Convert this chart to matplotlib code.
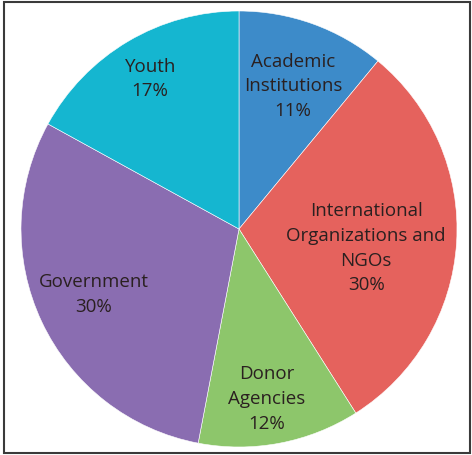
import matplotlib
matplotlib.use('Agg')
import matplotlib.pyplot as plt
import numpy as np
from matplotlib.patches import Rectangle

# pie slices, clockwise from 12 o'clock
labels = ['Academic\nInstitutions', 'International\nOrganizations and\nNGOs',
          'Donor\nAgencies', 'Government', 'Youth']
shares = [11, 30, 12, 30, 17]
colors = ['#3d8bc9', '#e5625d', '#8dc66b', '#8a6db1', '#15b6d0']
# label placement: fraction of radius and angle nudge (deg) from slice middle
label_r = [0.70, 0.59, 0.79, 0.73, 0.80]
label_nudge = [-1, -5, -1.5, -1, 0]

plt.rcParams['font.family'] = ['Open Sans', 'DejaVu Sans']

fig = plt.figure(figsize=(4.72, 4.55), dpi=100)
ax = fig.add_axes([21 / 472, 8 / 455, 436 / 472, 436 / 455])

wedges, _ = ax.pie(shares, colors=colors, startangle=90, counterclock=False,
                   radius=1.0, wedgeprops=dict(edgecolor='white', linewidth=0.4))

for w, lab, val, r, nd in zip(wedges, labels, shares, label_r, label_nudge):
    mid = np.deg2rad((w.theta1 + w.theta2) / 2 + nd)
    ax.text(r * np.cos(mid), r * np.sin(mid), f'{lab}\n{val}%',
            ha='center', va='center', fontsize=13.5, color='#2a2020',
            linespacing=1.47)

ax.set_xlim(-1, 1)
ax.set_ylim(-1, 1)
ax.set_aspect('equal')
ax.axis('off')

# frame around the whole chart
fig.patches.append(Rectangle((4 / 472, 2 / 455), 466 / 472, 451 / 455,
                             transform=fig.transFigure, fill=False,
                             edgecolor='#3a3a3a', linewidth=1.5))

fig.savefig('out.png', dpi=100)
